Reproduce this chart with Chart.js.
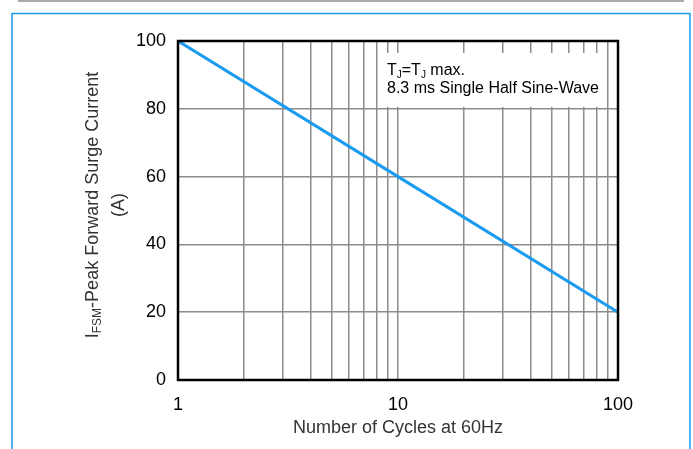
<!DOCTYPE html>
<html>
<head>
<meta charset="utf-8">
<script src="https://cdn.jsdelivr.net/npm/chart.js@4/dist/chart.umd.min.js"></script>
<style>
  html, body { margin: 0; padding: 0; background: #fff; }
  #wrap { width: 693px; height: 449px; }
</style>
</head>
<body>
<div id="wrap"><canvas id="myChart" width="693" height="449"></canvas></div>
<script>
const cycles = [1, 10, 100];
const surge = [100, 60, 20];
const yTicks = [0, 20, 40, 60, 80, 100];
const xGrid = [1, 2, 3, 4, 5, 6, 7, 8, 9, 10, 20, 30, 40, 50, 60, 70, 80, 90, 100];
const xLabels = [1, 10, 100];

const BLUE = "#1a9bf0";
const FONT = "'Liberation Sans', Arial, sans-serif";

// frame, note box, plot border and the rotated y title
const decor = {
  id: "decor",
  beforeDraw(chart) {
    const c = chart.ctx;
    c.save();
    c.strokeStyle = "#aaaaaa";
    c.lineWidth = 2;
    c.beginPath();
    c.moveTo(18, 1);
    c.lineTo(684, 1);
    c.stroke();
    c.strokeStyle = BLUE;
    c.lineWidth = 1.5;
    c.beginPath();
    c.moveTo(12, 460);
    c.lineTo(12, 13.5);
    c.lineTo(690, 13.5);
    c.lineTo(690, 460);
    c.stroke();

    // y title with subscript
    c.translate(92, 205);
    c.rotate(-Math.PI / 2);
    c.fillStyle = "#333";
    c.textBaseline = "alphabetic";
    const big = "18px " + FONT, small = "12px " + FONT;
    c.font = big;
    const w1 = c.measureText("I").width;
    const w3 = c.measureText("-Peak Forward Surge Current").width;
    c.font = small;
    const w2 = c.measureText("FSM").width;
    let x = -(w1 + w2 + w3) / 2;
    c.font = big;
    c.fillText("I", x, 6);
    x += w1;
    c.font = small;
    c.fillText("FSM", x, 9);
    x += w2;
    c.font = big;
    c.fillText("-Peak Forward Surge Current", x, 6);
    const w4 = c.measureText("(A)").width;
    c.fillText("(A)", -w4 / 2, 32);
    c.restore();
  },
  beforeDatasetsDraw(chart) {
    const c = chart.ctx;
    const a = chart.chartArea;
    c.save();
    c.fillStyle = "#fff";
    c.fillRect(383, 53, 222, 54);
    c.fillStyle = "#000";
    const big = "16px " + FONT, small = "10px " + FONT;
    const parts = [["T", big, 0], ["J", small, 3], ["=T", big, 0], ["J", small, 3], [" max.", big, 0]];
    let x = 387;
    parts.forEach(([t, f, dy]) => {
      c.font = f;
      c.fillText(t, x, 75 + dy);
      x += c.measureText(t).width;
    });
    c.font = big;
    c.fillText("8.3 ms Single Half Sine-Wave", 387, 93);
    c.restore();
  },
  afterDatasetsDraw(chart) {
    const c = chart.ctx;
    const a = chart.chartArea;
    c.save();
    c.strokeStyle = "#000";
    c.lineWidth = 2.5;
    c.strokeRect(a.left, a.top, a.right - a.left, a.bottom - a.top);
    c.restore();
  }
};

Chart.defaults.font.family = FONT;
Chart.defaults.font.size = 18;
Chart.defaults.color = "#000";

const myChart = new Chart(document.getElementById("myChart"), {
  type: "scatter",
  data: {
    datasets: [
      {
        data: cycles.map((c, i) => ({ x: c, y: surge[i] })),
        showLine: true,
        borderColor: BLUE,
        borderWidth: 3,
        pointRadius: 0,
        tension: 0,
      },
    ],
  },
  options: {
    responsive: false,
    animation: false,
    layout: {
      padding: { top: 41, right: 75, bottom: 0, left: 0 },
    },
    scales: {
      x: {
        type: "logarithmic",
        min: 1,
        max: 100,
        afterBuildTicks: (scale) => {
          scale.ticks = xGrid.map((v) => ({ value: v }));
        },
        afterFit: (scale) => {
          scale.height = 69;
        },
        grid: { color: "#8c8c8c", lineWidth: 1.5, drawTicks: false },
        border: { display: false },
        ticks: {
          autoSkip: false,
          maxRotation: 0,
          padding: 14,
          callback: (value) => (xLabels.includes(value) ? String(value) : ""),
        },
        title: {
          display: true,
          text: "Number of Cycles at 60Hz",
          color: "#333",
          padding: { top: 0, bottom: 10 },
        },
      },
      y: {
        min: 0,
        max: 100,
        afterBuildTicks: (scale) => {
          scale.ticks = yTicks.map((v) => ({ value: v }));
        },
        afterFit: (scale) => {
          scale.width = 178;
        },
        grid: { color: "#8c8c8c", lineWidth: 1.5, drawTicks: false },
        border: { display: false },
        ticks: { padding: 12 },
      },
    },
    plugins: {
      legend: { display: false },
      tooltip: { enabled: false },
    },
  },
  plugins: [decor],
});
</script>
</body>
</html>
